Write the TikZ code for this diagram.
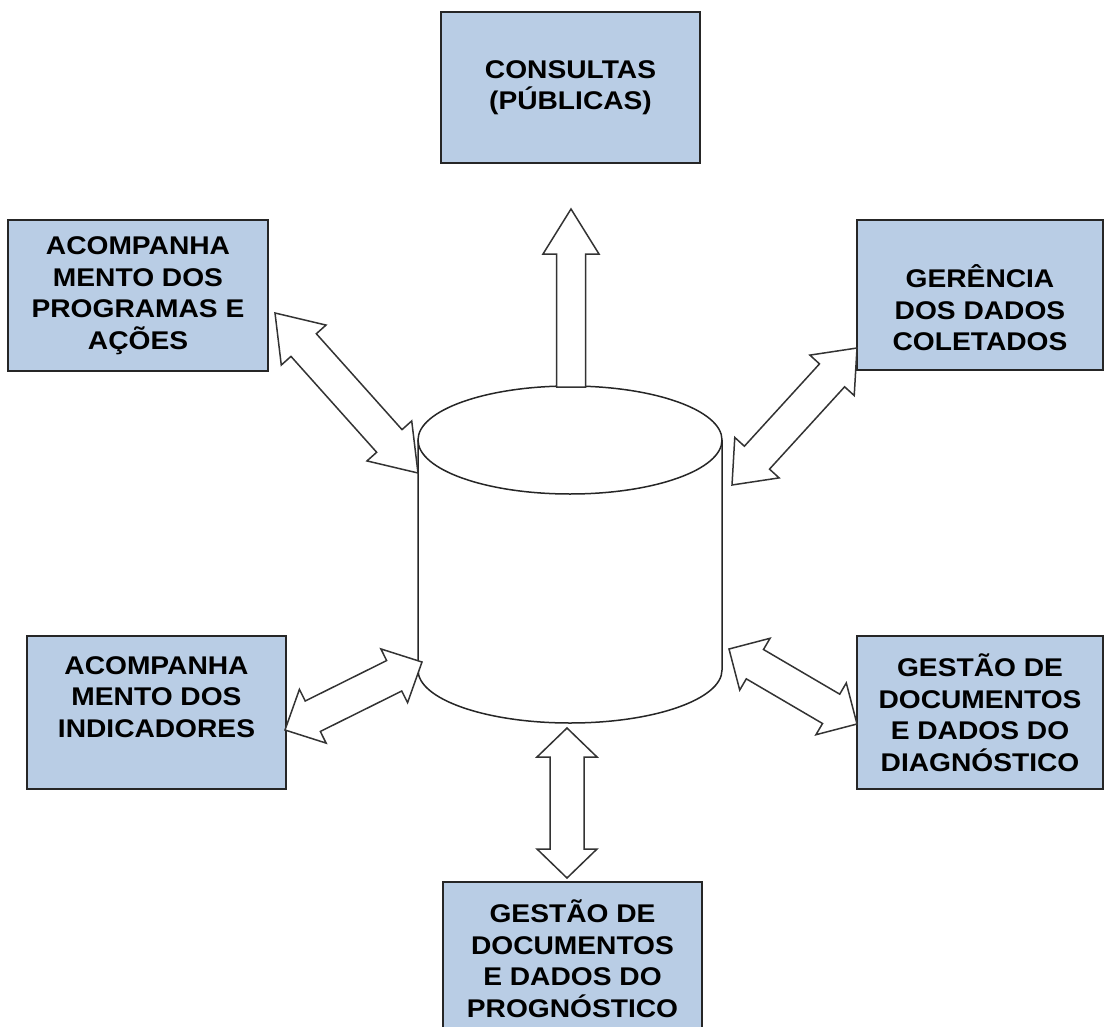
\documentclass[tikz,border=0pt]{standalone}
\usepackage{fontspec}
\setmainfont{Liberation Sans}[FakeStretch=1.1]
\usetikzlibrary{calc}
\definecolor{boxblue}{RGB}{185,205,229}

% hollow arrows between two named points
\newcommand{\dblarrow}[3][30]{%
  \draw[blockarrow] let \p1=($(#3)-(#2)$), \n1={atan2(\y1,\x1)}, \n2={veclen(\x1,\y1)} in
    [shift={(#2)},rotate=\n1] (0,0) -- (#1,30) -- (#1,17) -- (\n2-#1,17) -- (\n2-#1,30)
    -- (\n2,0) -- (\n2-#1,-30) -- (\n2-#1,-17) -- (#1,-17) -- (#1,-30) -- cycle;}
\newcommand{\onearrow}[2]{%
  \draw[blockarrow] let \p1=($(#2)-(#1)$), \n1={atan2(\y1,\x1)}, \n2={veclen(\x1,\y1)} in
    [shift={(#1)},rotate=\n1] (0,-14.5) -- (\n2-45,-14.5) -- (\n2-45,-28) -- (\n2,0)
    -- (\n2-45,28) -- (\n2-45,14.5) -- (0,14.5) -- cycle;}

\begin{document}
\begin{tikzpicture}[x=1pt,y=-1pt]
  \tikzstyle{box}=[draw=black!85,line width=2pt,fill=boxblue,minimum width=259pt,
                   minimum height=151pt,inner sep=0pt,align=center,
                   font=\fontsize{25.6}{31.5}\selectfont\bfseries]
  \tikzstyle{blockarrow}=[draw=black!80,line width=1.5pt,fill=white,line join=miter]
  \tikzstyle{dbline}=[draw=black!85,line width=1.5pt]
  \path[use as bounding box,clip] (0,0) rectangle (1105,1027);

  \node[box] (cons) at (570.5,87.5) {CONSULTAS\\(PÚBLICAS)};
  \node[box,minimum width=260pt] (prog) at (138,295.5) {ACOMPANHA\\MENTO DOS\\PROGRAMAS E\\AÇÕES};
  \node[box,minimum width=246pt,minimum height=150pt] (ger) at (980,295)
       {\vphantom{A}\\GERÊNCIA\\DOS DADOS\\COLETADOS};
  \node[box,minimum height=153pt] (ind) at (156.5,712.5)
       {ACOMPANHA\\MENTO DOS\\INDICADORES\\\vphantom{A}};
  \node[box,minimum width=246pt,minimum height=153pt] (diag) at (980,712.5)
       {GESTÃO DE\\DOCUMENTOS\\E DADOS DO\\DIAGNÓSTICO};
  \node[box,minimum height=153pt] (progn) at (572.5,958.5)
       {GESTÃO DE\\DOCUMENTOS\\E DADOS DO\\PROGNÓSTICO};

  % database
  \draw[dbline,fill=white] (418,440) -- (418,670) arc[start angle=180,end angle=0,x radius=152,y radius=53]
       -- (722,440);
  \draw[dbline] (570,440) ellipse[x radius=152,y radius=54];

  \coordinate (dbtop)  at (571,387);
  \coordinate (constip) at (571,209);
  \coordinate (progtip) at (275,313);
  \coordinate (dbnw)   at (418,473);
  \coordinate (gertip) at (857,348);
  \coordinate (dbne)   at (732,485);
  \coordinate (indtip) at (285,730);
  \coordinate (dbsw)   at (422,662);
  \coordinate (diagtip) at (857,724);
  \coordinate (dbse)   at (729,649);
  \coordinate (dbbot)  at (567,728);
  \coordinate (progntip) at (567,878);

  \onearrow{dbtop}{constip}
  \dblarrow[43]{progtip}{dbnw}
  \dblarrow[37]{dbne}{gertip}
  \dblarrow[31]{indtip}{dbsw}
  \dblarrow[30]{dbse}{diagtip}
  \dblarrow[29]{dbbot}{progntip}
\end{tikzpicture}
\end{document}
